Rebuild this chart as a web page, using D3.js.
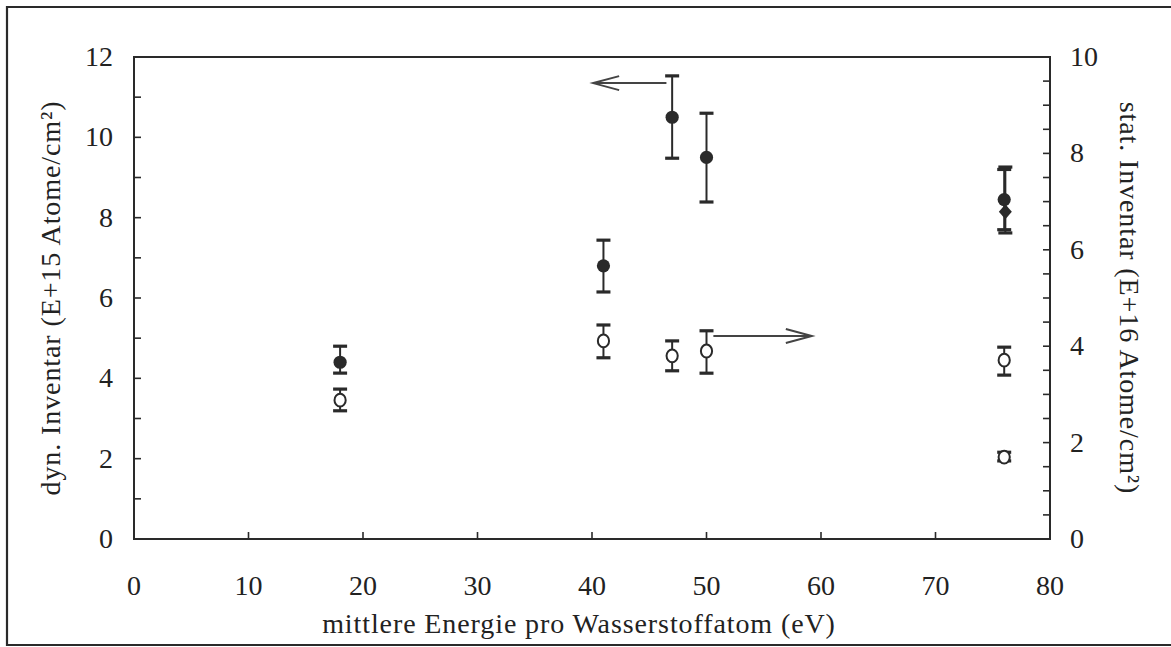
<!DOCTYPE html>
<html>
<head>
<meta charset="utf-8">
<script src="https://cdn.jsdelivr.net/npm/d3@7"></script>
<style>
  body { margin: 0; background: #fff; }
  svg text { font-family: "Liberation Serif", "DejaVu Serif", serif; fill: #222; }
</style>
</head>
<body>
<script>
// dynamic inventory (left axis, E+15 Atome/cm2) - filled circles
const dynE   = [18, 41, 47, 50, 76];
const dynVal = [4.4, 6.8, 10.5, 9.5, 8.45];
const dynLo  = [4.13, 6.15, 9.48, 8.39, 7.7];
const dynHi  = [4.8, 7.44, 11.53, 10.6, 9.2];

// extra point at 76 eV (filled diamond, left axis)
const diaE   = [76.1];
const diaVal = [8.15];
const diaLo  = [7.62];
const diaHi  = [9.26];

// static inventory (right axis, E+16 Atome/cm2) - open circles
const statE   = [18, 41, 47, 50, 76, 76];
const statVal = [2.88, 4.11, 3.8, 3.9, 3.71, 1.7];
const statLo  = [2.66, 3.76, 3.49, 3.44, 3.4, 1.62];
const statHi  = [3.11, 4.44, 4.11, 4.32, 3.98, 1.8];

const xTicks = [0, 10, 20, 30, 40, 50, 60, 70, 80];
const yLeftTicks = [0, 2, 4, 6, 8, 10, 12];
const yRightTicks = [0, 2, 4, 6, 8, 10];

const W = 1171, H = 647;
const m = {left: 134, right: 121, top: 57, bottom: 108};
const ink = "#2a2a2a";

const svg = d3.select("body").append("svg")
  .attr("width", W).attr("height", H);

// outer frame
svg.append("path")
  .attr("d", "M" + (W + 5) + ",7 H7 V645 H" + (W + 5))
  .attr("fill", "none").attr("stroke", ink).attr("stroke-width", 2.2);

const x = d3.scaleLinear().domain([0, 80]).range([m.left, W - m.right]);
const yL = d3.scaleLinear().domain([0, 12]).range([H - m.bottom, m.top]);
const yR = d3.scaleLinear().domain([0, 10]).range([H - m.bottom, m.top]);

const fs = 28;

// plot box
svg.append("rect")
  .attr("x", x(0)).attr("y", yL(12))
  .attr("width", x(80) - x(0)).attr("height", yL(0) - yL(12))
  .attr("fill", "none").attr("stroke", ink).attr("stroke-width", 2);

// inward ticks
const tickG = svg.append("g").attr("stroke", ink).attr("stroke-width", 1.6);
d3.range(1, 12).forEach(v => {
  tickG.append("line").attr("x1", x(0)).attr("x2", x(0) + 7).attr("y1", yL(v)).attr("y2", yL(v));
});
d3.range(0.5, 10, 0.5).forEach(v => {
  tickG.append("line").attr("x1", x(80)).attr("x2", x(80) - 7).attr("y1", yR(v)).attr("y2", yR(v));
});
xTicks.slice(1, -1).forEach(v => {
  tickG.append("line").attr("x1", x(v)).attr("x2", x(v)).attr("y1", yL(0)).attr("y2", yL(0) - 7);
});

// tick labels
svg.selectAll(".xl").data(xTicks).enter().append("text")
  .attr("x", d => x(d)).attr("y", yL(0) + 56)
  .attr("text-anchor", "middle").style("font-size", fs + "px")
  .text(d => d);
svg.selectAll(".yl").data(yLeftTicks).enter().append("text")
  .attr("x", x(0) - 21).attr("y", d => yL(d) + 9)
  .attr("text-anchor", "end").style("font-size", fs + "px")
  .text(d => d);
svg.selectAll(".yr").data(yRightTicks).enter().append("text")
  .attr("x", x(80) + 20).attr("y", d => yR(d) + 9)
  .attr("text-anchor", "start").style("font-size", fs + "px")
  .text(d => d);

// axis titles
svg.append("text")
  .attr("x", (x(0) + x(80)) / 2 - 13).attr("y", 633)
  .attr("text-anchor", "middle").style("font-size", fs + "px")
  .style("letter-spacing", "0.9px")
  .text("mittlere Energie pro Wasserstoffatom (eV)");
svg.append("text")
  .attr("transform", "translate(60," + ((yL(0) + yL(12)) / 2) + ") rotate(-90)")
  .attr("text-anchor", "middle").style("font-size", fs + "px")
  .style("letter-spacing", "0.9px")
  .text("dyn. Inventar (E+15 Atome/cm²)");
svg.append("text")
  .attr("transform", "translate(1120," + ((yL(0) + yL(12)) / 2) + ") rotate(90)")
  .attr("text-anchor", "middle").style("font-size", fs + "px")
  .style("letter-spacing", "0.9px")
  .text("stat. Inventar (E+16 Atome/cm²)");

// error bars helper
function errBars(xs, lo, hi, ys) {
  const g = svg.append("g").attr("stroke", ink);
  xs.forEach((xv, i) => {
    g.append("line").attr("x1", x(xv)).attr("x2", x(xv))
      .attr("y1", ys(lo[i])).attr("y2", ys(hi[i])).attr("stroke-width", 2);
    [lo[i], hi[i]].forEach(v => {
      g.append("line").attr("x1", x(xv) - 7).attr("x2", x(xv) + 7)
        .attr("y1", ys(v)).attr("y2", ys(v)).attr("stroke-width", 3.2);
    });
  });
}

errBars(dynE, dynLo, dynHi, yL);
errBars(diaE, diaLo, diaHi, yL);
errBars(statE, statLo, statHi, yR);

svg.selectAll(".dyn").data(dynE).enter().append("circle")
  .attr("cx", d => x(d)).attr("cy", (d, i) => yL(dynVal[i])).attr("r", 6.6)
  .attr("fill", ink);

svg.selectAll(".dia").data(diaE).enter().append("path")
  .attr("transform", (d, i) => "translate(" + x(d) + "," + yL(diaVal[i]) + ")")
  .attr("d", "M0,-7.5L6.5,0L0,7.5L-6.5,0Z")
  .attr("fill", ink);

svg.selectAll(".stat").data(statE).enter().append("ellipse")
  .attr("cx", d => x(d)).attr("cy", (d, i) => yR(statVal[i]))
  .attr("rx", 5.6).attr("ry", 6.4)
  .attr("fill", "#fff").attr("stroke", ink).attr("stroke-width", 2);

// arrows pointing to the axis each series belongs to
function arrow(x1, x2, yv) {
  const dir = x2 > x1 ? 1 : -1;
  const g = svg.append("g").attr("stroke", "#444").attr("stroke-width", 2).attr("fill", "none");
  g.append("line").attr("x1", x(x1)).attr("x2", x(x2)).attr("y1", yv).attr("y2", yv);
  g.append("path").attr("d",
    "M" + (x(x2) - dir * 26) + "," + (yv - 7) + " L" + x(x2) + "," + yv +
    " L" + (x(x2) - dir * 26) + "," + (yv + 7));
}
arrow(46.5, 40.1, yL(11.35));
arrow(50.6, 59.2, yR(4.21));
</script>
</body>
</html>
